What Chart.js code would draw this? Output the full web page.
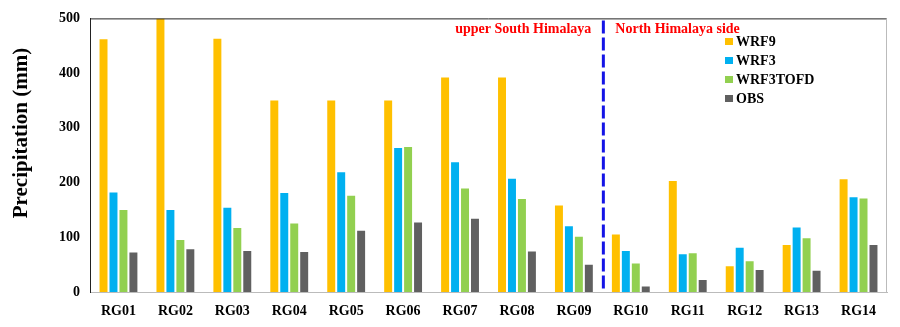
<!DOCTYPE html>
<html>
<head>
<meta charset="utf-8">
<script src="https://cdn.jsdelivr.net/npm/chart.js@4.4.1/dist/chart.umd.min.js"></script>
<style>
  html, body { margin: 0; padding: 0; background: #fff; }
  #wrap { width: 900px; height: 327px; }
</style>
</head>
<body>
<div id="wrap"><canvas id="chartRain" width="900" height="327"></canvas></div>
<script>
// Rain gauge stations
var stations = ['RG01', 'RG02', 'RG03', 'RG04', 'RG05', 'RG06', 'RG07', 'RG08', 'RG09', 'RG10', 'RG11', 'RG12', 'RG13', 'RG14'];

// Precipitation (mm) per run
var wrf9     = [462, 500, 463, 350, 350, 350, 392, 392, 158, 105, 203, 47, 86, 206];
var wrf3     = [182, 150, 154, 181, 219, 263, 237, 207, 120, 75, 69, 81, 118, 173];
var wrf3tofd = [150, 95, 117, 125, 176, 265, 189, 170, 101, 52, 71, 56, 98, 171];
var obs      = [72, 78, 75, 73, 112, 127, 134, 74, 50, 10, 22, 40, 39, 86];

var yTicks = [0, 100, 200, 300, 400, 500];
var southLabel = 'upper South Himalaya';
var northLabel = 'North Himalaya side';

var serif = '"Liberation Serif", "Times New Roman", serif';

// frame, divider, region labels, axis title and legend
var decorations = {
    id: 'decorations',
    afterDatasetsDraw: function(chart) {
        var ctx = chart.ctx;
        var area = chart.chartArea;
        var x = chart.scales.x;

        ctx.save();
        // top and right border
        ctx.strokeStyle = '#222';
        ctx.lineWidth = 1;
        ctx.beginPath();
        ctx.moveTo(area.left, area.top + 0.5);
        ctx.lineTo(area.right, area.top + 0.5);
        ctx.stroke();
        ctx.strokeStyle = '#bbb';
        ctx.beginPath();
        ctx.moveTo(area.right - 0.5, area.top);
        ctx.lineTo(area.right - 0.5, area.bottom);
        ctx.stroke();

        // dashed divider between RG09 and RG10
        var xd = (x.getPixelForValue(8) + x.getPixelForValue(9)) / 2 + 1;
        ctx.strokeStyle = '#1414e6';
        ctx.lineWidth = 3;
        ctx.setLineDash([13, 4]);
        ctx.beginPath();
        ctx.moveTo(xd, area.top + 2);
        ctx.lineTo(xd, area.bottom - 3);
        ctx.stroke();
        ctx.setLineDash([]);

        // region labels
        ctx.fillStyle = '#ff0000';
        ctx.font = 'bold 14px ' + serif;
        ctx.textBaseline = 'middle';
        ctx.textAlign = 'right';
        ctx.fillText(southLabel, xd - 12, area.top + 11);
        ctx.textAlign = 'left';
        ctx.fillText(northLabel, xd + 12, area.top + 11);

        // y axis title
        ctx.fillStyle = '#000';
        ctx.font = 'bold 21px ' + serif;
        ctx.textAlign = 'center';
        ctx.translate(22, 133);
        ctx.rotate(-Math.PI / 2);
        ctx.fillText('Precipitation (mm)', 0, 0);
        ctx.setTransform(1, 0, 0, 1, 0, 0);

        // legend
        ctx.font = 'bold 14px ' + serif;
        ctx.textAlign = 'left';
        chart.data.datasets.forEach(function(ds, i) {
            var ly = 41 + i * 19;
            ctx.fillStyle = ds.backgroundColor;
            ctx.fillRect(725, ly - 3, 8, 7);
            ctx.fillStyle = '#000';
            ctx.fillText(ds.label, 736, ly + 1);
        });
        ctx.restore();
    }
};

var chartRain = document.querySelector('#chartRain').getContext('2d');
var chart = new Chart(chartRain, {
    type: 'bar',
    data: {
        labels: stations,
        datasets: [
            { label: 'WRF9', backgroundColor: '#ffc000', data: wrf9 },
            { label: 'WRF3', backgroundColor: '#00b0f0', data: wrf3 },
            { label: 'WRF3TOFD', backgroundColor: '#92d050', data: wrf3tofd },
            { label: 'OBS', backgroundColor: '#606060', data: obs }
        ]
    },
    options: {
        responsive: false,
        animation: false,
        devicePixelRatio: 1,
        layout: { padding: { left: 0, top: 11, right: 13, bottom: 0 } },
        datasets: { bar: { categoryPercentage: 0.7, barPercentage: 0.8 } },
        plugins: {
            legend: { display: false },
            tooltip: { enabled: false }
        },
        scales: {
            x: {
                grid: { display: false, drawTicks: false },
                border: { color: '#bbb', width: 1 },
                ticks: {
                    color: '#000',
                    padding: 11,
                    font: { family: serif, size: 14, weight: 'bold' }
                },
                afterFit: function(scale) { scale.height = 35; }
            },
            y: {
                min: 0,
                max: 500,
                afterBuildTicks: function(scale) {
                    scale.ticks = yTicks.map(function(v) { return { value: v }; });
                },
                grid: { display: false, drawTicks: false },
                border: { color: '#222', width: 1 },
                ticks: {
                    color: '#000',
                    padding: 10,
                    font: { family: serif, size: 14, weight: 'bold' }
                },
                afterFit: function(scale) { scale.width = 90; }
            }
        }
    },
    plugins: [decorations]
});
</script>
</body>
</html>
